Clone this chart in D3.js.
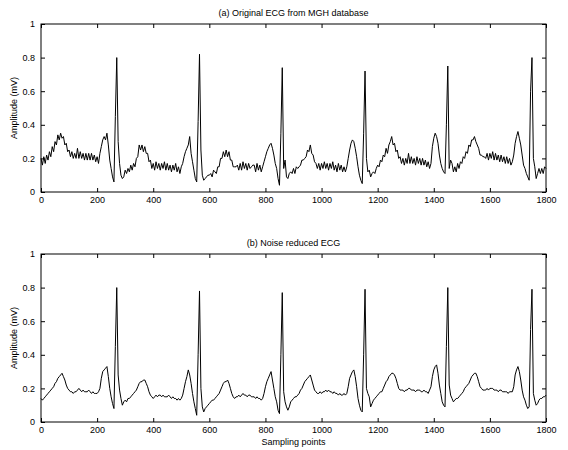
<!DOCTYPE html>
<html><head><meta charset="utf-8">
<script src="https://cdn.jsdelivr.net/npm/d3@7"></script>
<style>body{margin:0;background:#fff;} svg{display:block;font-family:"Liberation Sans",Arial,sans-serif;}</style>
</head><body>
<svg id="c" width="568" height="450"></svg>
<script>
// Sample step between values (samples)
const sampleStep = 5;
const xTicks = [0,200,400,600,800,1000,1200,1400,1600,1800];
const yTicks = [0,0.2,0.4,0.6,0.8,1];
const titles = ["(a) Original ECG from MGH database", "(b) Noise reduced ECG"];
const yLabel = "Amplitude (mV)";
const xLabel = "Sampling points";

// (a) original ECG, every 5 samples from 0 to 1800
const originalECG = [
0.20,0.16,0.21,0.17,0.22,0.19,0.24,0.21,0.27,0.24,
0.30,0.28,0.34,0.31,0.35,0.32,0.33,0.28,0.29,0.24,
0.25,0.21,0.24,0.20,0.23,0.20,0.26,0.20,0.24,0.20,
0.23,0.19,0.23,0.19,0.23,0.19,0.23,0.19,0.22,0.18,
0.21,0.17,0.23,0.27,0.31,0.33,0.31,0.35,0.28,0.19,
0.14,0.09,0.06,0.45,0.80,0.30,0.17,0.10,0.08,0.09,
0.13,0.11,0.14,0.12,0.16,0.13,0.17,0.15,0.20,0.21,
0.28,0.25,0.28,0.24,0.27,0.23,0.23,0.18,0.19,0.14,
0.17,0.13,0.18,0.14,0.17,0.13,0.17,0.14,0.18,0.13,
0.17,0.13,0.16,0.12,0.16,0.13,0.17,0.12,0.15,0.11,
0.15,0.17,0.21,0.24,0.26,0.28,0.33,0.23,0.18,0.13,
0.08,0.06,0.42,0.82,0.25,0.10,0.07,0.08,0.09,0.10,
0.10,0.11,0.09,0.13,0.12,0.11,0.15,0.15,0.20,0.20,
0.24,0.21,0.25,0.21,0.24,0.19,0.19,0.15,0.15,0.15,
0.16,0.13,0.17,0.13,0.18,0.14,0.17,0.13,0.17,0.14,
0.15,0.16,0.16,0.12,0.17,0.13,0.16,0.12,0.15,0.18,
0.21,0.24,0.26,0.28,0.29,0.26,0.22,0.17,0.14,0.08,
0.04,0.35,0.74,0.14,0.19,0.09,0.08,0.11,0.12,0.11,
0.14,0.11,0.15,0.14,0.15,0.16,0.19,0.19,0.20,0.21,
0.25,0.24,0.28,0.23,0.22,0.18,0.17,0.14,0.17,0.13,
0.17,0.14,0.18,0.14,0.17,0.13,0.17,0.14,0.18,0.13,
0.16,0.12,0.17,0.13,0.16,0.12,0.15,0.12,0.15,0.20,
0.25,0.29,0.31,0.30,0.26,0.21,0.15,0.10,0.07,0.05,
0.35,0.72,0.20,0.12,0.13,0.09,0.11,0.12,0.11,0.14,
0.16,0.15,0.19,0.18,0.22,0.21,0.26,0.23,0.28,0.30,
0.33,0.28,0.29,0.24,0.25,0.20,0.21,0.17,0.20,0.16,
0.20,0.17,0.23,0.17,0.21,0.17,0.20,0.16,0.21,0.17,
0.20,0.16,0.20,0.16,0.19,0.15,0.18,0.14,0.17,0.27,
0.32,0.35,0.33,0.29,0.22,0.17,0.14,0.12,0.11,0.40,
0.75,0.14,0.19,0.17,0.12,0.15,0.12,0.17,0.14,0.18,
0.17,0.21,0.20,0.24,0.23,0.28,0.27,0.31,0.31,0.33,
0.30,0.28,0.26,0.22,0.22,0.21,0.21,0.20,0.23,0.19,
0.23,0.20,0.24,0.19,0.23,0.19,0.22,0.18,0.22,0.18,
0.21,0.17,0.21,0.17,0.20,0.16,0.18,0.22,0.29,0.33,
0.36,0.32,0.28,0.22,0.16,0.14,0.11,0.09,0.07,0.60,
0.80,0.20,0.15,0.08,0.11,0.14,0.11,0.14,0.11,0.15,
0.14];

// (b) noise reduced ECG, every 5 samples from 0 to 1800
const reducedECG = [
0.14,0.13,0.14,0.15,0.16,0.17,0.18,0.19,0.20,0.21,
0.23,0.24,0.26,0.27,0.28,0.29,0.27,0.25,0.22,0.20,
0.19,0.18,0.18,0.17,0.18,0.18,0.19,0.20,0.19,0.18,
0.19,0.18,0.18,0.18,0.19,0.18,0.17,0.18,0.17,0.17,
0.17,0.18,0.20,0.26,0.30,0.31,0.32,0.33,0.27,0.20,
0.15,0.11,0.08,0.45,0.80,0.28,0.19,0.14,0.10,0.12,
0.13,0.12,0.14,0.14,0.15,0.16,0.17,0.18,0.19,0.21,
0.23,0.24,0.24,0.25,0.25,0.23,0.21,0.18,0.16,0.15,
0.14,0.15,0.16,0.15,0.16,0.16,0.15,0.16,0.15,0.15,
0.15,0.16,0.15,0.14,0.15,0.14,0.14,0.13,0.14,0.13,
0.14,0.16,0.20,0.24,0.27,0.31,0.28,0.23,0.17,0.12,
0.08,0.04,0.40,0.78,0.20,0.09,0.06,0.08,0.09,0.10,
0.11,0.12,0.13,0.13,0.14,0.15,0.16,0.17,0.19,0.21,
0.23,0.24,0.24,0.25,0.23,0.20,0.17,0.15,0.14,0.15,
0.15,0.16,0.15,0.16,0.17,0.16,0.16,0.15,0.16,0.16,
0.15,0.15,0.15,0.14,0.15,0.14,0.14,0.13,0.14,0.17,
0.21,0.24,0.26,0.28,0.30,0.25,0.20,0.15,0.12,0.07,
0.05,0.40,0.77,0.18,0.12,0.09,0.07,0.09,0.12,0.13,
0.14,0.15,0.15,0.16,0.17,0.19,0.20,0.22,0.24,0.25,
0.26,0.27,0.28,0.25,0.22,0.19,0.18,0.17,0.17,0.18,
0.17,0.18,0.18,0.19,0.18,0.19,0.18,0.18,0.17,0.18,
0.17,0.17,0.16,0.17,0.16,0.16,0.17,0.16,0.17,0.21,
0.26,0.28,0.30,0.31,0.27,0.21,0.14,0.10,0.07,0.06,
0.40,0.79,0.20,0.17,0.15,0.09,0.11,0.13,0.14,0.15,
0.16,0.17,0.18,0.18,0.20,0.22,0.24,0.25,0.27,0.28,
0.29,0.29,0.28,0.26,0.23,0.20,0.19,0.19,0.19,0.18,
0.19,0.19,0.20,0.20,0.19,0.19,0.19,0.18,0.19,0.19,
0.19,0.18,0.18,0.19,0.18,0.18,0.17,0.19,0.21,0.27,
0.31,0.33,0.34,0.29,0.22,0.17,0.12,0.10,0.09,0.45,
0.80,0.22,0.16,0.14,0.12,0.13,0.14,0.14,0.15,0.16,
0.17,0.18,0.20,0.21,0.22,0.23,0.25,0.27,0.28,0.29,
0.29,0.27,0.24,0.21,0.20,0.19,0.19,0.19,0.20,0.19,
0.20,0.20,0.20,0.19,0.19,0.19,0.18,0.19,0.19,0.18,
0.18,0.18,0.18,0.17,0.18,0.18,0.18,0.21,0.28,0.31,
0.33,0.30,0.25,0.19,0.15,0.13,0.10,0.08,0.09,0.55,
0.79,0.17,0.13,0.10,0.11,0.13,0.14,0.14,0.15,0.15,
0.16];

const svg = d3.select("#c");
const L = 41, R = 546;
const panels = [
  {top: 24, bottom: 192, data: originalECG, title: titles[0], titleY: 16, xlab: false},
  {top: 254, bottom: 422, data: reducedECG, title: titles[1], titleY: 246, xlab: true}
];
const x = d3.scaleLinear().domain([0,1800]).range([L,R]);
const fs = 9;

panels.forEach(p => {
  const y = d3.scaleLinear().domain([0,1]).range([p.bottom,p.top]);
  const g = svg.append("g");
  const tl = 4;
  const xb = g.append("g").attr("transform",`translate(0,${p.bottom})`)
    .call(d3.axisBottom(x).tickValues(xTicks).tickFormat(d3.format("d")).tickSizeInner(-tl).tickSizeOuter(0).tickPadding(5));
  const xt = g.append("g").attr("transform",`translate(0,${p.top})`)
    .call(d3.axisTop(x).tickValues(xTicks).tickFormat("").tickSizeInner(-tl).tickSizeOuter(0));
  const yl = g.append("g").attr("transform",`translate(${L},0)`)
    .call(d3.axisLeft(y).tickValues(yTicks).tickFormat(d => d===0||d===1? d3.format("d")(d) : d3.format(".1f")(d)).tickSizeInner(-tl).tickSizeOuter(0).tickPadding(6));
  const yr = g.append("g").attr("transform",`translate(${R},0)`)
    .call(d3.axisRight(y).tickValues(yTicks).tickFormat("").tickSizeInner(-tl).tickSizeOuter(0));
  [xb,xt,yl,yr].forEach(a => {
    a.select(".domain").remove();
    a.selectAll("line").attr("stroke","#000");
    a.selectAll("text").attr("font-size",fs).attr("fill","#000").attr("font-family","Liberation Sans, Arial, sans-serif");
  });
  g.append("rect").attr("x",L).attr("y",p.top).attr("width",R-L).attr("height",p.bottom-p.top)
    .attr("fill","none").attr("stroke","#000").attr("stroke-width",1);
  const line = d3.line().x((d,i)=>x(i*sampleStep)).y(d=>y(d));
  g.append("path").datum(p.data).attr("d",line).attr("fill","none").attr("stroke","#000").attr("stroke-width",1);
  g.append("text").attr("x",(L+R)/2).attr("y",p.titleY).attr("text-anchor","middle").attr("font-size",fs).text(p.title);
  g.append("text").attr("transform",`translate(17,${(p.top+p.bottom)/2}) rotate(-90)`).attr("text-anchor","middle").attr("font-size",fs).text(yLabel);
  if (p.xlab) g.append("text").attr("x",(L+R)/2).attr("y",445).attr("text-anchor","middle").attr("font-size",fs).text(xLabel);
});
</script>
</body></html>
